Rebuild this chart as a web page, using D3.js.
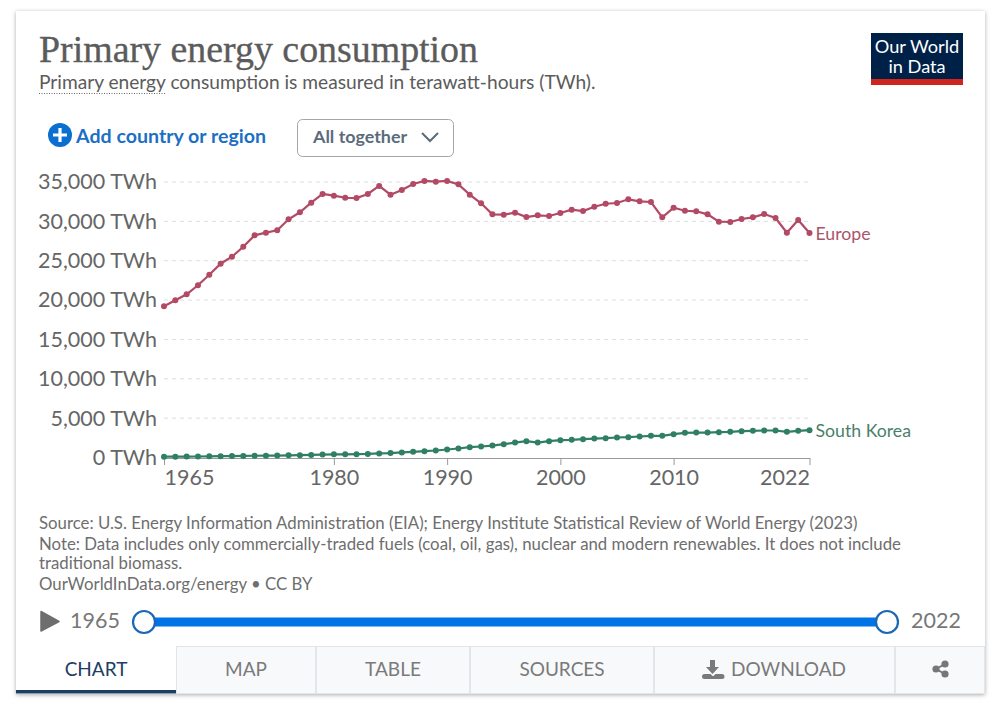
<!DOCTYPE html>
<html><head><meta charset="utf-8">
<script src="https://cdn.jsdelivr.net/npm/d3@7"></script>
<style>
html,body{margin:0;padding:0;background:#fff;}
svg{display:block;font-family:Lato,sans-serif;}
</style></head><body>
<svg id="c" width="996" height="715"></svg>
<script>
const startYear = 1965;
const europeValues = [19210,19970,20730,21880,23220,24620,25510,26780,28220,28560,28860,30260,31150,32370,33480,33260,33000,32960,33480,34500,33390,33980,34750,35130,35040,35130,34700,33390,32290,30890,30850,31100,30550,30770,30680,31060,31480,31310,31860,32240,32330,32800,32550,32460,30510,31730,31350,31280,30890,29960,29920,30300,30510,30930,30430,28560,30170,28520];
const koreaValues = [100,105,115,125,145,165,180,200,225,235,245,270,300,330,370,400,400,420,450,520,560,640,720,800,890,1020,1140,1310,1400,1520,1690,1900,2070,1900,2070,2200,2240,2330,2410,2460,2540,2580,2670,2750,2750,2960,3130,3170,3170,3220,3260,3350,3390,3430,3430,3260,3390,3470];
const yTicks = [0,5000,10000,15000,20000,25000,30000,35000];
const xTicks = [1965,1980,1990,2000,2010,2022];
const tabs = ["CHART","MAP","TABLE","SOURCES","DOWNLOAD"];
const tabEdges = [16,176,316,470,654,895,985];
const footerLines = [
 "Source: U.S. Energy Information Administration (EIA); Energy Institute Statistical Review of World Energy (2023)",
 "Note: Data includes only commercially-traded fuels (coal, oil, gas), nuclear and modern renewables. It does not include",
 "traditional biomass.",
 "OurWorldInData.org/energy • CC BY"];
const series = [
 {name:"Europe",values:europeValues,color:"#B34A65",label:"#A9566B"},
 {name:"South Korea",values:koreaValues,color:"#2F7F63",label:"#4A7F6B"}];

const svg = d3.select("#c");
const defs = svg.append("defs");
const f = defs.append("filter").attr("id","sh").attr("x","-5%").attr("y","-5%").attr("width","110%").attr("height","110%");
f.append("feDropShadow").attr("dx",0).attr("dy",1).attr("stdDeviation",2.2).attr("flood-color","#000").attr("flood-opacity",0.32);

svg.append("rect").attr("x",16).attr("y",11).attr("width",969).attr("height",683).attr("fill","#fff").attr("filter","url(#sh)");

// header
const T = (x,y,s,size,fill,extra={})=>{
  const t=svg.append("text").attr("x",x).attr("y",y).attr("font-size",size).attr("fill",fill).text(s);
  Object.entries(extra).forEach(([k,v])=>t.attr(k,v)); return t;};
T(39,62,"Primary energy consumption",38,"#5b5b5b",{"font-family":"'Liberation Serif',serif","textLength":439,"lengthAdjust":"spacingAndGlyphs","stroke":"#5b5b5b","stroke-width":0.35});
T(39,89,"Primary energy consumption is measured in terawatt-hours (TWh).",19.17,"#5b5b5b");
svg.append("line").attr("x1",39).attr("x2",165).attr("y1",93.5).attr("y2",93.5).attr("stroke","#666").attr("stroke-width",1).attr("stroke-dasharray","1 1.5");

// logo
svg.append("rect").attr("x",871).attr("y",33).attr("width",92).attr("height",52).attr("fill","#002147");
svg.append("rect").attr("x",871).attr("y",79).attr("width",92).attr("height",6).attr("fill","#ce261e");
T(917,53,"Our World",18.2,"#fff",{"text-anchor":"middle"});
T(917,73,"in Data",18.2,"#fff",{"text-anchor":"middle"});

// controls
svg.append("circle").attr("cx",60).attr("cy",135).attr("r",12).attr("fill","#0a6fd0");
svg.append("path").attr("d","M53 135H67M60 128V142").attr("stroke","#fff").attr("stroke-width",3.2);
T(76,143,"Add country or region",19.6,"#1d6fc4",{"font-weight":700});
svg.append("rect").attr("x",297.5).attr("y",119.5).attr("width",156).attr("height",37).attr("rx",5).attr("fill","#fff").attr("stroke","#a5a5a5");
T(313,143,"All together",17.9,"#5b6b7b",{"font-weight":700});
svg.append("path").attr("d","M422 133L430 141L438 133").attr("fill","none").attr("stroke","#5b6b7b").attr("stroke-width",2);

// chart
const x = d3.scaleLinear().domain([startYear,2022]).range([164,809.5]);
const y = d3.scaleLinear().domain([0,35000]).range([457.5,182]);
const yAxis = d3.axisLeft(y).tickValues(yTicks).tickSize(0).tickPadding(7).tickFormat(d=>d3.format(",")(d)+" TWh");
const gy = svg.append("g").attr("transform","translate(164,0)").call(yAxis);
gy.select(".domain").remove();
gy.selectAll("text").attr("font-size",21.5).attr("fill","#666").attr("font-family","Lato");
svg.append("g").selectAll("line").data(yTicks.filter(d=>d>0)).join("line")
 .attr("x1",164).attr("x2",809).attr("y1",d=>y(d)).attr("y2",d=>y(d))
 .attr("stroke","#ddd").attr("stroke-dasharray","4 4");
const xAxis = d3.axisBottom(x).tickValues(xTicks).tickSize(7).tickPadding(5).tickFormat(d3.format("d")).tickSizeOuter(0);
const gx = svg.append("g").attr("transform","translate(0,458)").call(xAxis);
gx.select(".domain").attr("stroke","#999");
gx.selectAll("line").attr("stroke","#999");
gx.selectAll("text").attr("font-size",21.5).attr("fill","#666").attr("font-family","Lato")
 .attr("text-anchor",d=>d===1965?"start":d===2022?"end":"middle");

const line = d3.line().x((d,i)=>x(startYear+i)).y(d=>y(d));
series.forEach(s=>{
  svg.append("path").attr("d",line(s.values)).attr("fill","none").attr("stroke",s.color).attr("stroke-width",2.2);
  svg.append("g").selectAll("circle").data(s.values).join("circle")
    .attr("cx",(d,i)=>x(startYear+i)).attr("cy",d=>y(d)).attr("r",3).attr("fill",s.color);
  T(x(2022)+6,y(s.values[s.values.length-1])+7,s.name,17.7,s.label);
});

// footer
const fy=[529,550,569,590];
footerLines.forEach((l,i)=>T(39,fy[i],l,16.8,"#6e6e6e"));

// timeline
svg.append("path").attr("d","M41 611.5L41 631L59 621.5Z").attr("fill","#6e6e6e").attr("stroke","#6e6e6e").attr("stroke-width",1.5).attr("stroke-linejoin","round");
T(70,628,"1965",21.5,"#777");
T(911,628,"2022",21.5,"#777");
svg.append("line").attr("x1",144).attr("x2",887).attr("y1",622).attr("y2",622).attr("stroke","#0073e6").attr("stroke-width",9);
[144,887].forEach(cx=>svg.append("circle").attr("cx",cx).attr("cy",622).attr("r",11).attr("fill","#fff").attr("stroke","#1a67b5").attr("stroke-width",2.2));

// tabs
const tabG = svg.append("g");
tabEdges.slice(0,-1).forEach((e,i)=>{
  const w=tabEdges[i+1]-e;
  if(i>0){
    tabG.append("rect").attr("x",e+.5).attr("y",646.5).attr("width",w-1).attr("height",47).attr("fill","#f8f9fa").attr("stroke","#e3e5e8");
  }
  if(i<tabs.length){
    const cx=e+w/2+(i===4?14:0);
    T(cx,676,tabs[i],19,i===0?"#1d3d63":"#7a7a7a",{"text-anchor":"middle"});
  }
});
svg.append("rect").attr("x",16).attr("y",690).attr("width",160).attr("height",3.5).attr("fill","#1d3d63");
// download icon
svg.append("path").attr("d","M710 660h5v7h4l-6.5 7l-6.5 -7h4zM704.500 674h6l2 2h1l2 -2h6.500a1.500 1.500 0 0 1 0 5h-17.500a1.500 1.500 0 0 1 0 -5z").attr("fill","#7a7a7a");
// share icon
svg.append("path").attr("d","M945 664L936 669L945 674").attr("fill","none").attr("stroke","#777").attr("stroke-width",2);
[[945,664],[936,669],[945,674]].forEach(p=>svg.append("circle").attr("cx",p[0]).attr("cy",p[1]).attr("r",3.6).attr("fill","#777"));
</script>
</body></html>
